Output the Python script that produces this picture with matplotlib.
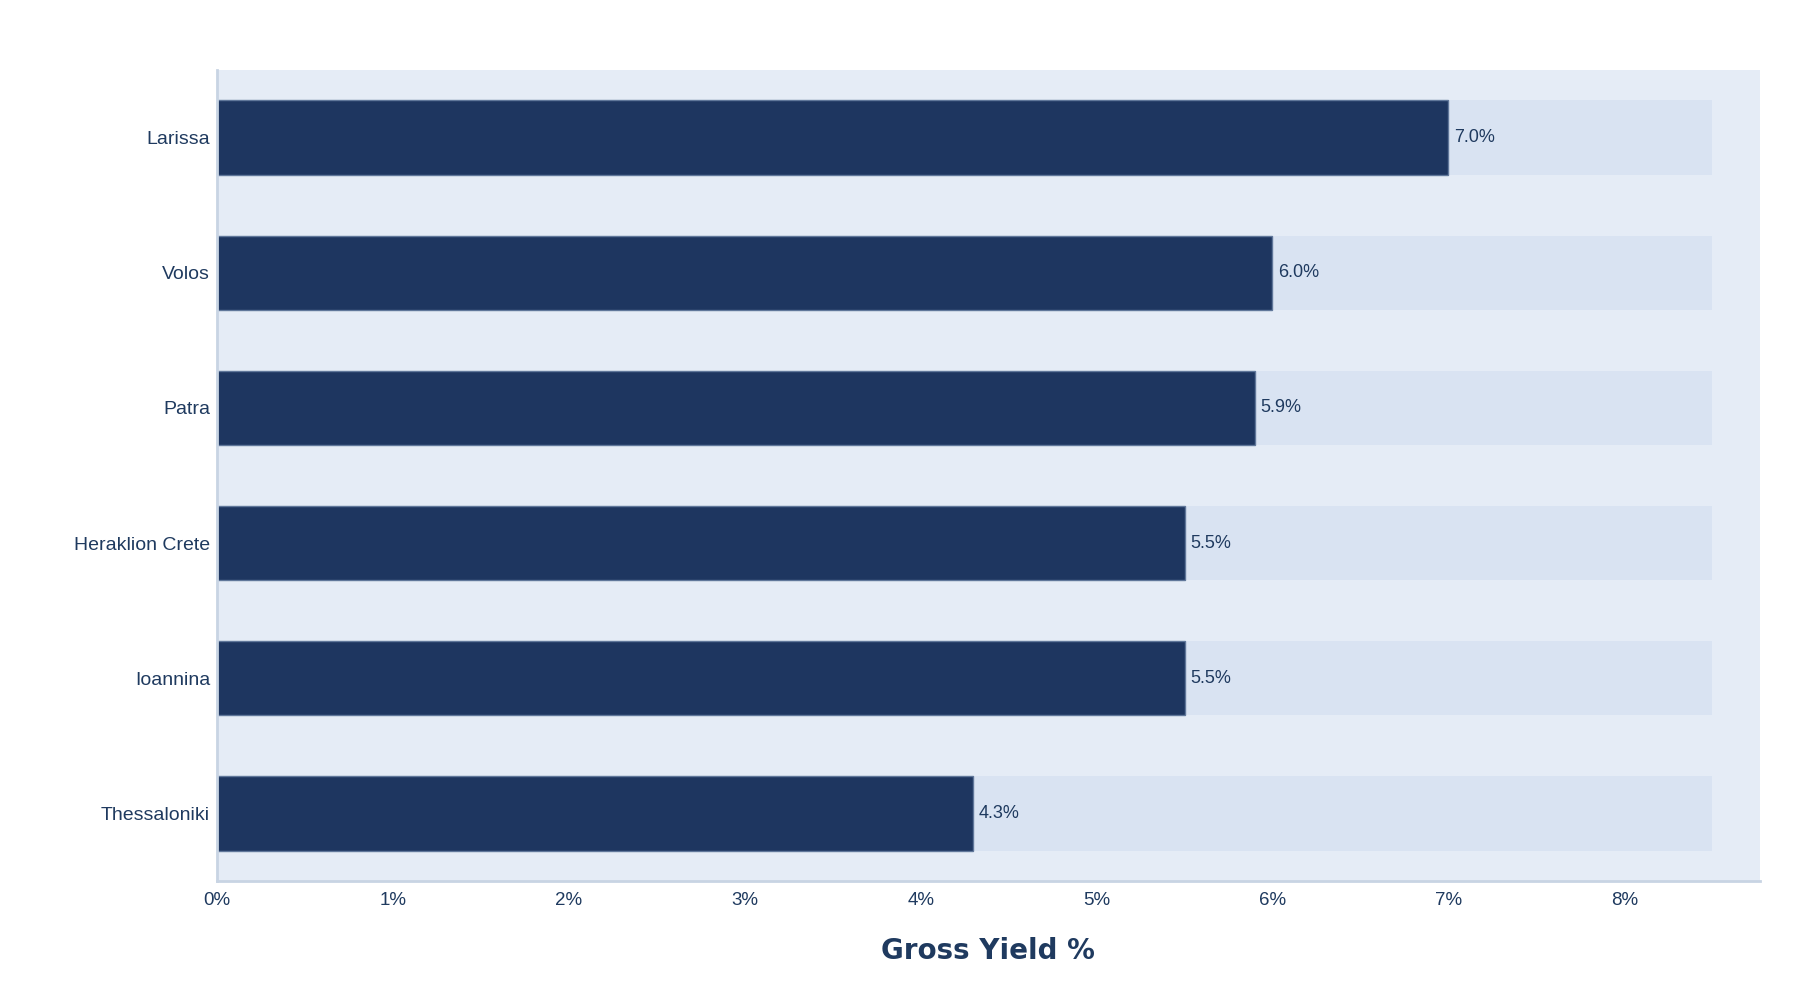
import matplotlib.pyplot as plt
import numpy as np

cities = ['Thessaloniki', 'Ioannina', 'Heraklion Crete', 'Patra', 'Volos', 'Larissa']
gross_yield = [4.3, 5.5, 5.5, 5.9, 6.0, 7.0]
yield_cap = [8.5, 8.5, 8.5, 8.5, 8.5, 8.5]
x_ticks = [0, 1, 2, 3, 4, 5, 6, 7, 8]

navy = '#1e3660'
text_col = '#1f3a5f'

fig = plt.figure(figsize=(18, 10), dpi=100)
ax = fig.add_axes([0.1206, 0.119, 0.857, 0.811])
ax.set_facecolor('#e5ecf6')

y = np.arange(len(cities))
ax.barh(y, yield_cap, height=0.55, color='#d9e3f2', zorder=1)
ax.barh(y, gross_yield, height=0.55, color=navy, edgecolor='#60779a',
        linewidth=1, zorder=2)

for yi, v in zip(y, gross_yield):
    ax.annotate(f'{v:.1f}%', (v, yi), xytext=(4, 0), textcoords='offset points',
                va='center', ha='left', fontsize=13, color=text_col,
                family='Liberation Sans', zorder=3)

ax.set_xlim(0, 8.77)
ax.set_ylim(-0.5, len(cities) - 0.5)
ax.set_yticks(y)
ax.set_yticklabels(cities, fontsize=14, color=text_col, family='Liberation Sans')
ax.set_xticks(x_ticks)
ax.set_xticklabels([f'{t}%' for t in x_ticks], fontsize=13.5, color=text_col,
                   family='Liberation Sans')
ax.tick_params(axis='x', length=0, pad=8)
ax.tick_params(axis='y', length=0, pad=5)

for side in ['top', 'right']:
    ax.spines[side].set_visible(False)
for side in ['left', 'bottom']:
    ax.spines[side].set_color('#c8d4e3')
    ax.spines[side].set_linewidth(2)

ax.set_xlabel('Gross Yield %', fontsize=20, fontweight='heavy', color=text_col,
              family='DejaVu Sans', labelpad=20)

fig.savefig('out.png', dpi=100, facecolor='white')
